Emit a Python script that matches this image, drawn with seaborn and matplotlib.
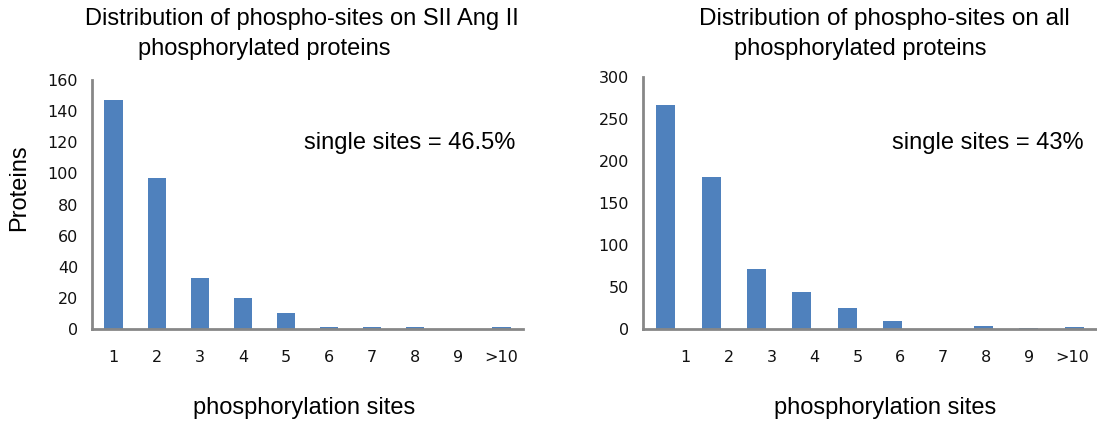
import numpy as np
import pandas as pd
import matplotlib
matplotlib.use('Agg')
import matplotlib.pyplot as plt
import seaborn as sns

# Data
sites = ['1', '2', '3', '4', '5', '6', '7', '8', '9', '>10']
sii_counts = [147, 97, 33, 20, 10, 1.5, 1.5, 1.5, 0, 1.5]
all_counts = [267, 181, 71, 44, 25, 10, 0, 3, 1, 2]

left_title = 'Distribution of phospho-sites on SII Ang II'
right_title = 'Distribution of phospho-sites on all'
subtitle = 'phosphorylated proteins'
left_note = 'single sites = 46.5%'
right_note = 'single sites = 43%'

sns.set_style('white')
plt.rcParams['font.family'] = ['Liberation Sans', 'DejaVu Sans']
plt.rcParams['text.color'] = 'black'

bar_color = '#4F81BD'
axis_gray = '#878787'
W, H = 1097, 423

fig = plt.figure(figsize=(W / 100, H / 100), dpi=100)
ax1 = fig.add_axes([92 / W, 1 - 329 / H, (523 - 92) / W, (329 - 80) / H])
ax2 = fig.add_axes([643 / W, 1 - 329 / H, (W - 643) / W, (329 - 77) / H])

df1 = pd.DataFrame({'sites': sites, 'proteins': sii_counts})
df2 = pd.DataFrame({'sites': sites, 'proteins': all_counts})

sns.barplot(data=df1, x='sites', y='proteins', order=sites, color=bar_color,
            saturation=1, width=0.42, linewidth=0, ax=ax1)
sns.barplot(data=df2, x='sites', y='proteins', order=sites, color=bar_color,
            saturation=1, width=0.42, linewidth=0, ax=ax2)


def style_axis(ax, ymax, ystep, xmax, label_pos):
    ax.set_ylim(0, ymax)
    ax.set_yticks(np.arange(0, ymax + 1, ystep))
    ax.set_xlim(-0.5, xmax)
    ax.set_xticks(label_pos, sites)
    ax.set_xticks(np.arange(-0.5, len(sites), 1), minor=True)
    for side in ['top', 'right']:
        ax.spines[side].set_visible(False)
    for side in ['left', 'bottom']:
        ax.spines[side].set_color(axis_gray)
        ax.spines[side].set_linewidth(2)
    ax.tick_params(axis='y', which='major', direction='out', length=5, width=2,
                   color=axis_gray, pad=5, labelsize=11.5)
    ax.tick_params(axis='x', which='major', length=0, pad=15, labelsize=11.5)
    ax.tick_params(axis='x', which='minor', direction='out', length=5, width=2,
                   color=axis_gray)
    for t in ax.get_xticklabels() + ax.get_yticklabels():
        t.set_family('DejaVu Sans')
        t.set_color('#111111')
    ax.set_xlabel('')
    ax.set_ylabel('')


style_axis(ax1, 160, 20, 9.5, np.arange(len(sites)))
style_axis(ax2, 300, 50, -0.5 + (W - 643) / 45.7, np.linspace(0.44, 8.95, len(sites)))

# titles, notes and axis labels placed in figure pixels
def ftext(x, y, s, size=17, **kw):
    fig.text(x / W, 1 - y / H, s, fontsize=size, ha='center', va='center',
             color='black', **kw)

ftext(302, 19, left_title)
ftext(264, 49, subtitle)
ftext(884, 19, right_title, size=17.5)
ftext(860, 49, subtitle)
ftext(410, 143, left_note)
ftext(988, 143, right_note)
ftext(304, 408, 'phosphorylation sites')
ftext(885, 408, 'phosphorylation sites')
ftext(19, 188, 'Proteins', rotation=90)

fig.savefig('out.png', dpi=100)
